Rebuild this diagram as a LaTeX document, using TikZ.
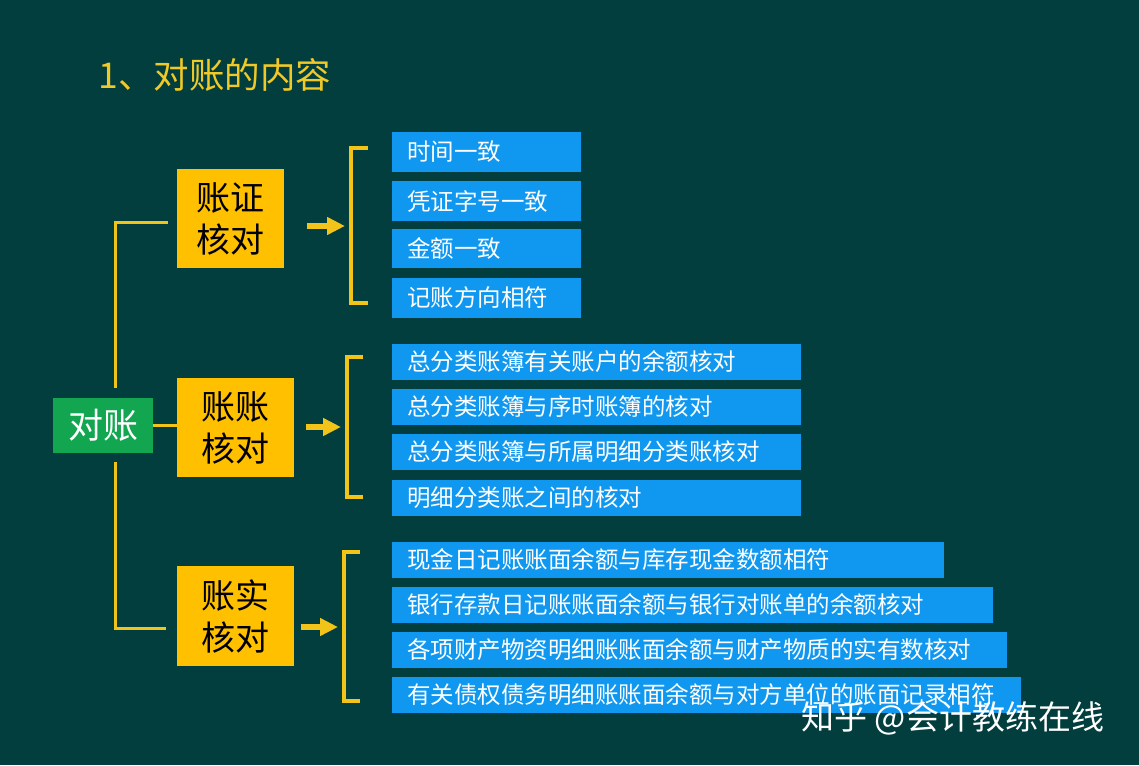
\documentclass[tikz,border=0pt]{standalone}
\usepackage{fontspec}
\setmainfont{Noto Sans CJK SC}
\usetikzlibrary{arrows.meta}
\definecolor{bgc}{RGB}{1,62,61}
\definecolor{gboxc}{RGB}{18,166,80}
\definecolor{yboxc}{RGB}{255,192,0}
\definecolor{bboxc}{RGB}{16,152,240}
\definecolor{linec}{RGB}{242,195,24}
\definecolor{titlec}{RGB}{240,200,40}
\begin{document}
\begin{tikzpicture}[x=1pt,y=-1pt,
  bluebox/.style={fill=bboxc, text=white, anchor=west, inner xsep=15pt, inner ysep=0pt,
    align=left, font=\fontsize{23.5}{28}\selectfont},
  ybox/.style={fill=yboxc, text=black, inner sep=0pt, align=center,
    font=\fontsize{34}{42}\selectfont},
  gbox/.style={fill=gboxc, text=white, inner sep=0pt, font=\fontsize{35}{42}\selectfont},
  tree/.style={draw=linec, line width=3pt},
  brk/.style={draw=linec, line width=4pt},
  arr/.style={draw=linec, line width=6pt, -{Triangle[length=18pt,width=17pt]}}
]
\fill[bgc] (0,0) rectangle (1139,765);
\useasboundingbox (0,0) rectangle (1139,765);

\node[anchor=west, text=titlec, font=\fontsize{35.5}{42}\selectfont] (title) at (95,75) {1、对账的内容};

\node[gbox, minimum width=100pt, minimum height=55pt] (g) at (103,425.5) {对账};
\node[ybox, minimum width=107pt, minimum height=99pt] (z1) at (230.5,218.5) {账证\\核对};
\node[ybox, minimum width=117pt, minimum height=99pt] (z2) at (235.5,427.5) {账账\\核对};
\node[ybox, minimum width=117pt, minimum height=100pt] (z3) at (235.5,616) {账实\\核对};

% tree connectors
\coordinate (t1a) at (168,222);
\coordinate (t1b) at (115,388);
\coordinate (t3a) at (115,462);
\coordinate (t3b) at (166,628);
\draw[tree] (t1a) -- (t1b |- t1a) -- (t1b);
\draw[tree] (t3a) |- (t3b);
\draw[tree] (g.east |- 0,425) -- (z2.west |- 0,425);

% brackets
\draw[brk] (368,148) -- (351,148) -- (351,303) -- (368,303);
\draw[brk] (363,357) -- (347,357) -- (347,497) -- (363,497);
\draw[brk] (360,552) -- (344,552) -- (344,701) -- (360,701);
\coordinate (k1) at (345,226);
\coordinate (k2) at (341,427);
\coordinate (k3) at (338,627);
\draw[arr] (z1.east |- k1) ++(23,0) -- (k1);
\draw[arr] (z2.east |- k2) ++(12,0) -- (k2);
\draw[arr] (z3.east |- k3) ++(7,0) -- (k3);

% blue boxes group 1
\node[bluebox, text width=159pt, minimum height=40pt] (a1) at (392,152) {时间一致};
\node[bluebox, text width=159pt, minimum height=40pt] (a2) at (392,201) {凭证字号一致};
\node[bluebox, text width=159pt, minimum height=39pt] (a3) at (392,248.5) {金额一致};
\node[bluebox, text width=159pt, minimum height=40pt] (a4) at (392,297.5) {记账方向相符};
% group 2
\node[bluebox, text width=379pt, minimum height=36pt] (b1) at (392,361.5) {总分类账簿有关账户的余额核对};
\node[bluebox, text width=379pt, minimum height=36pt] (b2) at (392,406.5) {总分类账簿与序时账簿的核对};
\node[bluebox, text width=379pt, minimum height=36pt] (b3) at (392,452) {总分类账簿与所属明细分类账核对};
\node[bluebox, text width=379pt, minimum height=36pt] (b4) at (392,498) {明细分类账之间的核对};
% group 3
\node[bluebox, text width=522pt, minimum height=36pt] (c1) at (392,559.5) {现金日记账账面余额与库存现金数额相符};
\node[bluebox, text width=571pt, minimum height=36pt] (c2) at (392,604.5) {银行存款日记账账面余额与银行对账单的余额核对};
\node[bluebox, text width=585pt, minimum height=36pt] (c3) at (392,649.5) {各项财产物资明细账账面余额与财产物质的实有数核对};
\node[bluebox, text width=599pt, minimum height=36pt] (c4) at (392,695) {有关债权债务明细账账面余额与对方单位的账面记录相符};

\node[anchor=west, text=white, font=\fontsize{33}{38}\selectfont] (wm) at (798,718) {知乎 @会计教练在线};
\end{tikzpicture}
\end{document}
